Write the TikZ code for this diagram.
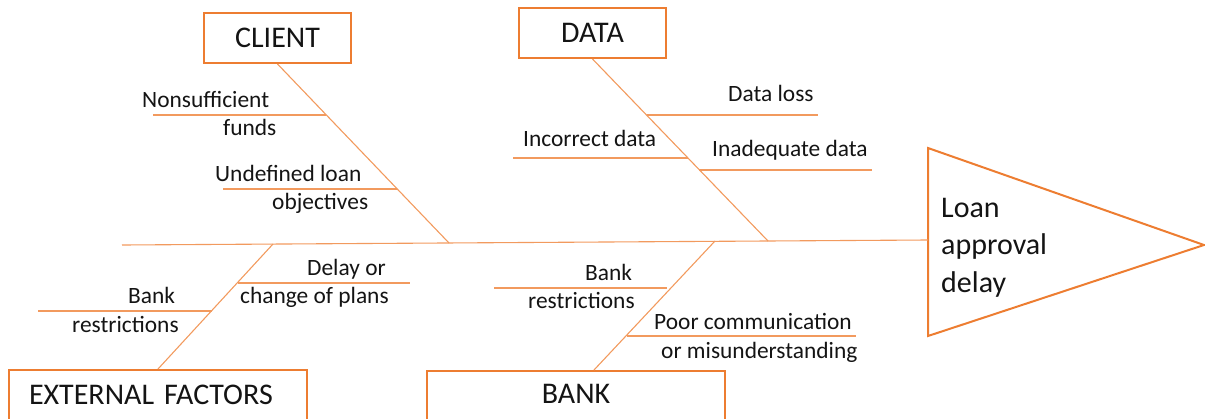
\documentclass[tikz,border=0pt]{standalone}
\usepackage{fontspec}
\setmainfont{Carlito}
\definecolor{org}{HTML}{ED7D31}
\definecolor{bonec}{HTML}{F29A5E}
\definecolor{txt}{HTML}{141414}
\begin{document}
\begin{tikzpicture}[x=1pt,y=-1pt,
  bone/.style={draw=bonec, line width=1.1pt},
  box/.style={draw=org, line width=2pt, rectangle, inner sep=0pt, text=txt,
    font=\fontsize{30}{36}\selectfont},
  lbl/.style={anchor=base west, inner sep=0pt, text=txt,
    font=\fontsize{23.4}{28}\selectfont}]
\useasboundingbox (0,0) rectangle (1205,418);
\clip (0,0) rectangle (1205,418);

% category boxes
\node[box, minimum width=147pt, minimum height=50pt] (client) at (277.5,38) {CLIENT};
\node[box, minimum width=147pt, minimum height=50pt] (data) at (592.5,33) {DATA};
\node[box, anchor=north, text width=258pt, align=left, inner xsep=20pt,
      text height=34pt, text depth=30pt] (ext) at (158,369) {EXTERNAL FACTORS};
\node[box, anchor=north, minimum width=298pt,
      text height=32pt, text depth=30pt] (bank) at (576,370) {BANK};

% head (effect)
\coordinate (t1) at (928,148);
\coordinate (t2) at (1204,245);
\coordinate (t3) at (928,336);
\draw[org, line width=2pt, line join=miter] (t1) -- (t2) -- (t3) -- cycle;
\node[anchor=north west, align=left, inner sep=0pt, text=txt,
      font=\fontsize{30}{37.5}\selectfont] (effect) at (941,198) {Loan\\approval\\delay};

% spine
\coordinate (sp0) at (122,245);
\coordinate (head) at (928,240);
\draw[bone] (sp0) -- (head);

% main bones
\coordinate (cJ) at (449,243);
\coordinate (dJ) at (768,241);
\coordinate (eJ) at (273,244);
\coordinate (bJ) at (715,241);
\coordinate (bT) at (594,370);
\draw[bone] (client.south) -- (cJ);
\draw[bone] (data.south) -- (dJ);
\draw[bone] (ext.north) -- (eJ);
\draw[bone] (bT) -- (bJ);

% sub-bones
\coordinate (c1a) at (153,115); \coordinate (c1b) at (326,115);
\coordinate (c2a) at (223,189); \coordinate (c2b) at (397,189);
\coordinate (d1a) at (647,115); \coordinate (d1b) at (818,115);
\coordinate (d2a) at (513,158); \coordinate (d2b) at (688,158);
\coordinate (d3a) at (699,170); \coordinate (d3b) at (872,170);
\coordinate (e1a) at (38,311);  \coordinate (e1b) at (212,311);
\coordinate (e2a) at (238,283); \coordinate (e2b) at (410,283);
\coordinate (b1a) at (494,288); \coordinate (b1b) at (667,288);
\coordinate (b2a) at (627,336); \coordinate (b2b) at (856,336);
\foreach \p in {c1,c2,d1,d2,d3,e1,e2,b1,b2}
  \draw[bone] (\p a) -- (\p b);

% labels
\node[lbl] (l1) at (142,107) {Nonsufficient};
\node[lbl] (l1b) at (223,135) {funds};
\node[lbl] (l2) at (215,181) {Undefined loan};
\node[lbl] (l2b) at (272,209) {objectives};
\node[lbl] (l3) at (728,101) {Data loss};
\node[lbl] (l4) at (523,146) {Incorrect data};
\node[lbl] (l5) at (712,156) {Inadequate data};
\node[lbl] (l6) at (128,303) {Bank};
\node[lbl] (l6b) at (72,332) {restrictions};
\node[lbl] (l7) at (307,275) {Delay or};
\node[lbl] (l7b) at (240,303) {change of plans};
\node[lbl] (l8) at (585,280) {Bank};
\node[lbl] (l8b) at (528,308) {restrictions};
\node[lbl] (l9) at (654,329) {Poor communication};
\node[lbl] (l9b) at (661,358) {or misunderstanding};
\end{tikzpicture}
\end{document}
